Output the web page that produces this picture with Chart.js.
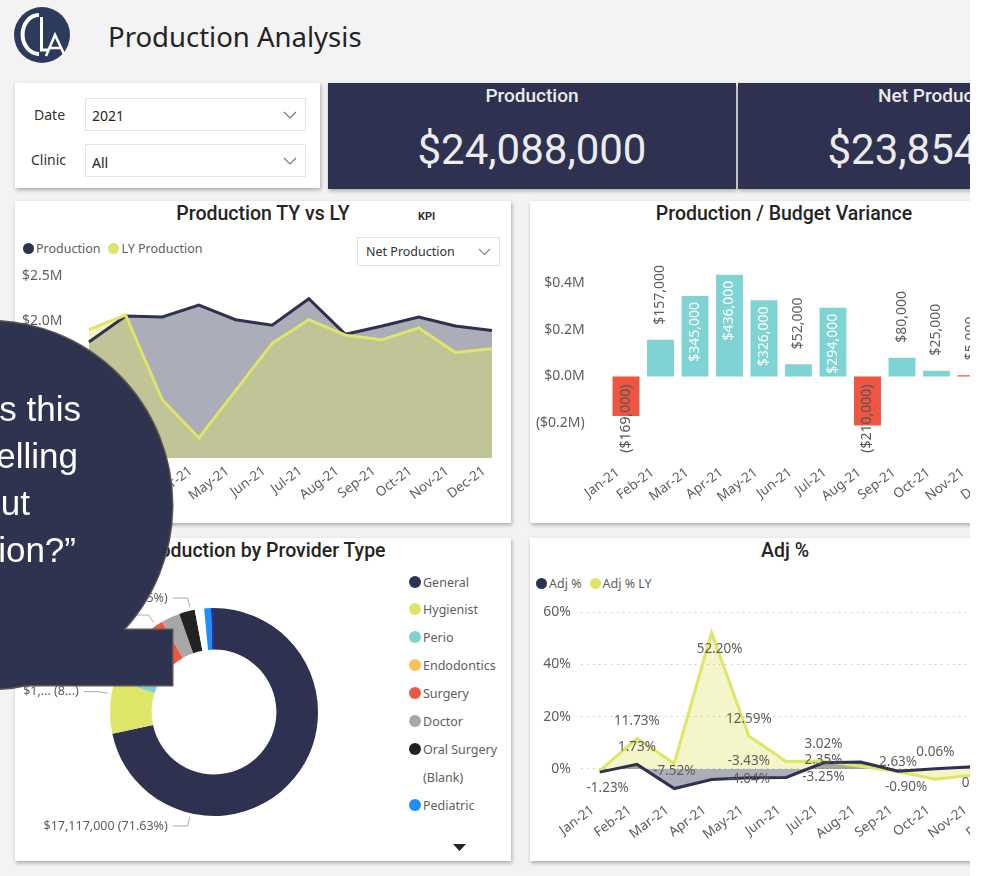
<!DOCTYPE html>
<html lang="en">
<head>
<meta charset="utf-8">
<title>Production Analysis</title>
<script src="https://cdn.jsdelivr.net/npm/chart.js@4.4.1/dist/chart.umd.min.js"></script>
<style>
*{box-sizing:border-box;}
html,body{margin:0;padding:0;}
body{width:986px;height:876px;overflow:hidden;position:relative;background:#f3f3f3;font-family:'Noto Sans','Open Sans',sans-serif;color:#252423;}
.abs{position:absolute;}
.card{position:absolute;background:#fff;box-shadow:1px 2px 4px rgba(0,0,0,.3);}
.ptitle{position:absolute;left:0;width:496px;text-align:center;font-family:Roboto,sans-serif;font-weight:500;font-size:19.5px;line-height:24px;color:#252423;white-space:nowrap;}
.dd{position:absolute;background:#fff;border:1px solid #e4e4e4;color:#252423;}
.dd .t{position:absolute;left:6px;top:0;bottom:0;display:flex;align-items:center;}
.dd svg{position:absolute;right:8px;top:50%;margin-top:-4px;}
.kpi{position:absolute;top:83px;height:106px;width:408px;background:#2e3150;color:#ececec;font-family:Roboto,sans-serif;text-align:center;box-shadow:1px 2px 4px rgba(0,0,0,.3);}
.kpi .k1{position:absolute;left:0;right:0;top:1px;font-size:19px;font-weight:500;line-height:24px;}
.kpi .k2{position:absolute;left:0;right:0;top:42px;font-size:42px;line-height:50px;font-weight:400;}
.leg{position:absolute;font-size:12.5px;color:#605e5c;white-space:nowrap;line-height:16px;}
.dot{display:inline-block;width:11px;height:11px;border-radius:50%;vertical-align:-1px;margin-right:2px;}
.bline{position:absolute;z-index:11;text-align:right;color:#fff;font-family:'Liberation Sans',Arial,sans-serif;font-size:35px;line-height:47px;white-space:nowrap;}
canvas{position:absolute;}
</style>
</head>
<body>

<!-- header -->
<svg class="abs" style="left:13px;top:6px" width="58" height="58" viewBox="0 0 58 58">
  <circle cx="29" cy="29" r="28" fill="#2c3a5c"/>
  <path d="M26 9 A16 19 0 0 0 26 48" fill="none" stroke="#fff" stroke-width="4"/>
  <path d="M28.5 11 V44 H36" fill="none" stroke="#fff" stroke-width="3"/>
  <path d="M33 50 L42 29 L51 48 M37 42 H47" fill="none" stroke="#fff" stroke-width="2.6"/>
</svg>
<div class="abs" style="left:108px;top:20px;font-size:27.5px;line-height:34px;color:#252423;">Production Analysis</div>

<!-- filters -->
<div class="card" style="left:15px;top:83px;width:305px;height:105px;"></div>
<div class="abs" style="left:34px;top:105px;font-size:14px;line-height:20px;color:#333;">Date</div>
<div class="abs" style="left:31px;top:150px;font-size:14px;line-height:20px;color:#333;">Clinic</div>
<div class="dd" style="left:85px;top:98px;width:221px;height:33px;font-size:14px;"><span class="t" style="padding-top:2px">2021</span>
  <svg width="14" height="8"><polyline points="1,1 7,7 13,1" fill="none" stroke="#777" stroke-width="1.2"/></svg></div>
<div class="dd" style="left:85px;top:144px;width:221px;height:33px;font-size:14px;"><span class="t" style="padding-top:3px">All</span>
  <svg width="14" height="8"><polyline points="1,1 7,7 13,1" fill="none" stroke="#777" stroke-width="1.2"/></svg></div>

<!-- KPI cards -->
<div class="kpi" style="left:328px;"><div class="k1">Production</div><div class="k2" id="kpi1"></div></div>
<div class="kpi" style="left:738px;"><div class="k1">Net Production</div><div class="k2" id="kpi2"></div></div>

<!-- panel 1 -->
<div class="card" style="left:15px;top:201px;width:496px;height:322px;">
  <div class="ptitle" style="top:1px;">Production TY vs LY</div>
</div>
<div class="abs" style="left:418px;top:210px;font-family:Roboto,sans-serif;font-weight:700;font-size:11px;line-height:14px;color:#333;">KPI</div>
<div class="dd" style="left:357px;top:237px;width:143px;height:29px;font-size:12.5px;"><span class="t" style="left:8px;color:#333">Net Production</span>
  <svg width="13" height="8"><polyline points="1,1 6.5,6.5 12,1" fill="none" stroke="#888" stroke-width="1.1"/></svg></div>
<div class="leg" id="leg1" style="left:23px;top:241px;"></div>
<canvas id="c1" width="496" height="323" style="left:15px;top:201px;"></canvas>

<!-- panel 2 -->
<div class="card" style="left:530px;top:201px;width:470px;height:322px;">
  <div class="ptitle" style="top:1px;width:508px;">Production / Budget Variance</div>
</div>
<canvas id="c2" width="500" height="323" style="left:530px;top:201px;"></canvas>

<!-- panel 3 -->
<div class="card" style="left:15px;top:538px;width:496px;height:323px;">
  <div class="ptitle" style="top:1px;">Production by Provider Type</div>
</div>
<canvas id="c3" width="390" height="322" style="left:15px;top:538px;"></canvas>
<div id="leg3"></div>
<svg class="abs" style="left:453px;top:844px" width="13" height="8"><polygon points="0,0 13,0 6.5,7" fill="#252423"/></svg>

<!-- panel 4 -->
<div class="card" style="left:530px;top:538px;width:470px;height:323px;">
  <div class="ptitle" style="top:1px;width:510px;">Adj %</div>
</div>
<div class="leg" id="leg4" style="left:536px;top:576px;"></div>
<canvas id="c4" width="500" height="323" style="left:530px;top:538px;"></canvas>

<!-- speech bubble overlay -->
<svg class="abs" style="left:0;top:0;z-index:10;overflow:visible" width="986" height="876">
  <g stroke="#5b5750" stroke-width="3" fill="none"><circle cx="-12" cy="505" r="184"/><rect x="-10" y="630" width="182" height="55"/></g>
  <g fill="#2e3350"><circle cx="-12" cy="505" r="184"/><rect x="-10" y="630" width="182" height="55"/></g>
</svg>
<div class="bline" style="left:-300px;width:381px;top:385px;">“What is this</div>
<div class="bline" style="left:-300px;width:378px;top:432px;">chart telling</div>
<div class="bline" style="left:-300px;width:330px;top:479px;">about</div>
<div class="bline" style="left:-300px;width:376px;top:526px;">production?”</div>

<div class="abs" style="left:970px;top:0;width:16px;height:876px;background:#fff;z-index:20;"></div>

<script>
// ---------------- data ----------------
const months = ['Jan-21','Feb-21','Mar-21','Apr-21','May-21','Jun-21','Jul-21','Aug-21','Sep-21','Oct-21','Nov-21','Dec-21'];

const kpiProduction = 24088000;
const kpiNetProduction = 23854000;

const production   = [1775000, 2060000, 2050000, 2180000, 2020000, 1960000, 2250000, 1860000, 1950000, 2050000, 1950000, 1900000];
const lyProduction = [1910000, 2070000, 1140000,  720000, 1240000, 1760000, 2020000, 1850000, 1800000, 1930000, 1660000, 1700000];
const productionTicks = [500000, 1000000, 1500000, 2000000, 2500000];

const budgetVariance = [-169000, 157000, 345000, 436000, 326000, 52000, 294000, -210000, 80000, 25000, 5000, 60000];
const budgetTicks = [-200000, 0, 200000, 400000];

const providerTypes = ['General','Hygienist','Perio','Endodontics','Surgery','Doctor','Oral Surgery','(Blank)','Pediatric','Other'];
const providerProduction = [17117000, 1983000, 1710000, 96000, 1004000, 693000, 585000, 346000, 251000, 112000];

const adjPct   = [-1.23, 1.73, -7.52, -4.04, -3.43, -3.25, 2.35, 2.63, -0.90, 0.06, 0.85, 0.70];
const adjPctLY = [-0.80, 11.73, 2.10, 52.20, 12.59, 2.80, 3.02, 1.00, -1.10, -4.00, -2.30, -1.50];
const adjTicks = [0, 20, 40, 60];

// ---------------- style ----------------
const NAVY = '#2e3250', YELLOW = '#dfe566', TEAL = '#7fd4d3', RED = '#ee5641', TXT = '#605e5c';
const providerColors = [NAVY, YELLOW, TEAL, '#fbc15a', RED, '#a7a7a7', '#222222', '#ffffff', '#1f8efa', '#1c3a9e'];
const providerLegendCount = 9;
const providerLabelAngle = [193, 280, null, null, 326, null, 347, null, null, null];
const providerLabelTruncate = [false, true, false, false, false, false, false, false, false, false];
const adjLabelPlacement   = ['below','above','above','next','above','next','on','next','below','above','below',null];
const adjLYLabelPlacement = [null,'above',null,'below','above',null,'above',null,null,null,null,null];
const budgetColor = v => v < 10000 ? RED : TEAL;

Chart.defaults.font.family = "'Noto Sans','Open Sans',sans-serif";
Chart.defaults.color = TXT;
Chart.defaults.animation = false;

function money(v){ return (v < 0 ? '(' : '') + '$' + Math.abs(v).toLocaleString('en-US') + (v < 0 ? ')' : ''); }
function mLabel(v){ const s = '$' + (Math.abs(v)/1e6).toFixed(1) + 'M'; return v < 0 ? '(' + s + ')' : s; }

document.getElementById('kpi1').textContent = money(kpiProduction);
document.getElementById('kpi2').textContent = money(kpiNetProduction);

function inlineLegend(el, items){
  el.innerHTML = items.map(([n,c],i)=>`<span style="margin-left:${i?8:0}px"><span class="dot" style="background:${c}"></span>${n}</span>`).join('');
}
inlineLegend(document.getElementById('leg1'), [['Production',NAVY],['LY Production',YELLOW]]);
inlineLegend(document.getElementById('leg4'), [['Adj %',NAVY],['Adj % LY',YELLOW]]);
(function(){
  const el = document.getElementById('leg3');
  let h = '';
  for (let i = 0; i < providerLegendCount; i++) {
    const top = 574.5 + i * 27.9;
    h += `<div class="leg" style="left:409px;top:${top}px;font-size:12.5px;"><span class="dot" style="background:${providerColors[i]};width:12px;height:12px;"></span>${providerTypes[i]}</div>`;
  }
  el.innerHTML = h;
})();

const xTickBase = { autoSkip:false, minRotation:37, maxRotation:37, color:TXT, font:{size:13.5} };

// ---------------- chart 1 ----------------
new Chart(document.getElementById('c1'), {
  type: 'line',
  data: { labels: months, datasets: [
    { label:'Production', data: production, borderColor: NAVY, backgroundColor:'rgba(45,50,80,0.4)', fill:'origin', borderWidth:3, pointRadius:0, tension:0, order:1 },
    { label:'LY Production', data: lyProduction, borderColor: YELLOW, backgroundColor:'rgba(224,229,100,0.4)', fill:'origin', borderWidth:3, pointRadius:0, tension:0, order:0 }
  ]},
  options: {
    responsive:false, events:[],
    layout:{ padding:{ left:7, right:19, top:75, bottom:0 } },
    plugins:{ legend:{display:false}, tooltip:{enabled:false}, filler:{drawTime:'beforeDatasetsDraw'} },
    scales:{
      x:{ offset:false, grid:{display:false, drawTicks:false}, border:{display:false},
          ticks:Object.assign({}, xTickBase, { padding:5, labelOffset:-8 }),
          afterFit(a){ a.height = 66; a.paddingLeft = 0; a.paddingRight = 0; } },
      y:{ min:500000, max:2500000, grid:{display:false, drawTicks:false}, border:{display:false},
          afterBuildTicks(a){ a.ticks = productionTicks.map(v=>({value:v})); },
          ticks:{ crossAlign:'far', color:TXT, font:{size:14}, callback:v=>mLabel(v) },
          afterFit(a){ a.width = 67; } }
    }
  }
});

// ---------------- chart 2 ----------------
const budgetLabelPlugin = {
  id:'budgetLabels',
  afterDatasetsDraw(chart){
    const ctx = chart.ctx, meta = chart.getDatasetMeta(0);
    const zero = chart.scales.y.getPixelForValue(0);
    ctx.save();
    ctx.font = '14px "Noto Sans"';
    ctx.textBaseline = 'middle';
    meta.data.forEach((bar, i) => {
      const v = budgetVariance[i];
      const txt = money(v);
      const w = ctx.measureText(txt).width;
      const h = Math.abs(bar.base - bar.y);
      ctx.save();
      ctx.translate(bar.x, 0);
      ctx.rotate(-Math.PI/2);
      if (v >= 0) {
        if (h > w + 8) { ctx.fillStyle = '#ffffff'; ctx.textAlign = 'right'; ctx.fillText(txt, -(bar.y + 6), 0); }
        else { ctx.fillStyle = TXT; ctx.textAlign = 'left'; ctx.fillText(txt, -(bar.y - 15), 0); }
      } else {
        ctx.fillStyle = '#555'; ctx.textAlign = 'right'; ctx.fillText(txt, -(zero + 8), 0);
      }
      ctx.restore();
    });
    ctx.restore();
  }
};
new Chart(document.getElementById('c2'), {
  type:'bar',
  data:{ labels: months, datasets:[{ data: budgetVariance, backgroundColor: budgetVariance.map(budgetColor), categoryPercentage:1, barPercentage:0.78, borderWidth:0 }] },
  options:{
    responsive:false, events:[],
    layout:{ padding:{ left:0, right:7.25, top:58.75, bottom:0 } },
    plugins:{ legend:{display:false}, tooltip:{enabled:false} },
    scales:{
      x:{ grid:{display:false, drawTicks:false}, border:{display:false},
          ticks:Object.assign({}, xTickBase, { padding:18, labelOffset:-8 }),
          afterFit(a){ a.height = 77.5; a.paddingLeft = 0; a.paddingRight = 0; } },
      y:{ min:-300000, max:500000, grid:{display:false, drawTicks:false}, border:{display:false},
          afterBuildTicks(a){ a.ticks = budgetTicks.map(v=>({value:v})); },
          ticks:{ padding:24, color:TXT, font:{size:14}, callback:v=>mLabel(v) },
          afterFit(a){ a.width = 78.75; } }
    }
  },
  plugins:[budgetLabelPlugin]
});

// ---------------- chart 3 ----------------
const donutLabelPlugin = {
  id:'donutLabels',
  afterDatasetsDraw(chart){
    const arc = chart.getDatasetMeta(0).data[0];
    const cx = arc.x, cy = arc.y, r = arc.outerRadius;
    const total = providerProduction.reduce((a,b)=>a+b,0);
    const ctx = chart.ctx;
    ctx.save();
    ctx.font = '12.5px "Noto Sans"'; ctx.textAlign = 'right'; ctx.textBaseline = 'middle';
    ctx.strokeStyle = '#a8a8a8'; ctx.lineWidth = 1; ctx.fillStyle = TXT;
    providerLabelAngle.forEach((deg, i) => {
      if (deg == null) return;
      const t = deg * Math.PI / 180, sx = Math.sin(t), sy = -Math.cos(t);
      const ax = cx + (r+4)*sx, ay = cy + (r+4)*sy, ex = cx + (r+13)*sx, ey = cy + (r+13)*sy;
      const hx = ex - 15;
      ctx.beginPath(); ctx.moveTo(ax, ay); ctx.lineTo(ex, ey); ctx.lineTo(hx, ey); ctx.stroke();
      let m = '$' + providerProduction[i].toLocaleString('en-US');
      let p = (providerProduction[i] / total * 100).toFixed(2) + '%';
      if (providerLabelTruncate[i]) { m = m.slice(0,3) + '...'; p = p.slice(0,1) + '...'; }
      ctx.fillText(m + ' (' + p + ')', hx - 5, ey);
    });
    ctx.restore();
  }
};
new Chart(document.getElementById('c3'), {
  type:'doughnut',
  data:{ labels: providerTypes, datasets:[{ data: providerProduction, backgroundColor: providerColors, borderWidth:0, hoverOffset:0 }] },
  options:{
    responsive:false, events:[], cutout:'60%',
    layout:{ padding:{ left:95, top:70, right:87, bottom:44 } },
    plugins:{ legend:{display:false}, tooltip:{enabled:false} }
  },
  plugins:[donutLabelPlugin]
});

// ---------------- chart 4 ----------------
const adjLabelPlugin = {
  id:'adjLabels',
  afterDatasetsDraw(chart){
    const ctx = chart.ctx, xs = chart.scales.x, ys = chart.scales.y;
    const step = xs.getPixelForValue(1) - xs.getPixelForValue(0);
    ctx.save();
    ctx.font = '13.5px "Noto Sans"'; ctx.fillStyle = TXT; ctx.textAlign = 'center'; ctx.textBaseline = 'middle';
    [[adjPct, adjLabelPlacement], [adjPctLY, adjLYLabelPlacement]].forEach(([vals, place]) => {
      vals.forEach((v, i) => {
        const p = place[i]; if (!p) return;
        let x = xs.getPixelForValue(i), y = ys.getPixelForValue(v);
        if (p === 'above') y -= 17; else if (p === 'below') { y += 16; x += 8; } else if (p === 'on') y -= 3; else if (p === 'next') x += step;
        ctx.fillText(v.toFixed(2) + '%', x, y);
      });
    });
    ctx.restore();
  }
};
new Chart(document.getElementById('c4'), {
  type:'line',
  data:{ labels: months, datasets:[
    { label:'Adj %', data: adjPct, borderColor: NAVY, backgroundColor:'rgba(45,50,80,0.4)', fill:'origin', borderWidth:3, pointRadius:0, tension:0, order:0 },
    { label:'Adj % LY', data: adjPctLY, borderColor: YELLOW, backgroundColor:'rgba(224,229,100,0.35)', fill:'origin', borderWidth:3, pointRadius:0, tension:0, order:1 }
  ]},
  options:{
    responsive:false, events:[],
    layout:{ padding:{ left:0, right:1.4, top:74.3, bottom:0 } },
    plugins:{ legend:{display:false}, tooltip:{enabled:false}, filler:{drawTime:'beforeDatasetsDraw'} },
    scales:{
      x:{ offset:true, grid:{display:false, drawTicks:false}, border:{display:false},
          ticks:Object.assign({}, xTickBase, { padding:7, labelOffset:-7 }),
          afterFit(a){ a.height = 66; a.paddingLeft = 0; a.paddingRight = 0; } },
      y:{ min:-10, max:60, grid:{ color:'#c4c4c4', lineWidth:1, drawTicks:false }, border:{ display:false, dash:[1.5,4.5] },
          afterBuildTicks(a){ a.ticks = adjTicks.map(v=>({value:v})); },
          ticks:{ padding:10, color:TXT, font:{size:14}, callback:v=>v + '%' },
          afterFit(a){ a.width = 51; } }
    }
  },
  plugins:[adjLabelPlugin]
});
</script>
</body>
</html>
